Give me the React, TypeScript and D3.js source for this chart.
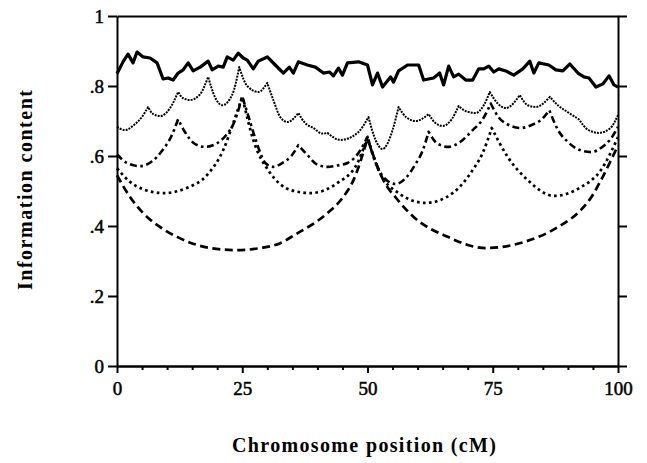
import React, { useEffect, useRef } from "react";
import * as d3 from "d3";

// x positions (cM) and information content values
const solidPts = [
  [0, 0.835], [1.2, 0.869], [2.2, 0.891], [3.2, 0.866], [4, 0.897], [5.2, 0.883], [6.6, 0.88],
  [8, 0.866], [9.2, 0.82], [10.2, 0.823], [11.2, 0.817], [12.2, 0.837], [13.2, 0.846], [14.2, 0.866],
  [15.2, 0.843], [16.6, 0.854], [18.2, 0.871], [19, 0.846], [20.2, 0.857], [21.2, 0.854], [22, 0.883],
  [23.2, 0.874], [24.2, 0.894], [25.2, 0.88], [26, 0.874], [27.2, 0.849], [28.2, 0.871], [30, 0.883],
  [31.6, 0.86], [33.2, 0.837], [34.4, 0.854], [35.2, 0.837], [36.2, 0.869], [38, 0.86], [39.6, 0.854],
  [41.2, 0.837], [42.4, 0.84], [43.2, 0.829], [44.2, 0.851], [45, 0.831], [46, 0.866], [48.2, 0.869],
  [50, 0.86], [51, 0.803], [52, 0.837], [53, 0.797], [54.6, 0.826], [55.2, 0.811], [56.2, 0.843],
  [58, 0.86], [60.2, 0.86], [61.2, 0.817], [63.2, 0.823], [64.4, 0.837], [65.2, 0.803], [66.2, 0.857],
  [67.2, 0.826], [68.2, 0.834], [69.6, 0.817], [71, 0.817], [72.2, 0.849], [73.2, 0.849], [74.2, 0.857],
  [75.2, 0.84], [76.2, 0.849], [77.6, 0.843], [79.2, 0.831], [81, 0.849], [82.4, 0.871], [83.2, 0.837],
  [84.2, 0.866], [86.2, 0.86], [87.6, 0.846], [89, 0.843], [90.4, 0.863], [92, 0.837], [93.2, 0.826],
  [94.2, 0.823], [95.6, 0.797], [97, 0.806], [98.2, 0.829], [99.2, 0.803], [100, 0.797],
];

const finePts = [
  [0, 0.683], [1.6, 0.674], [3.5, 0.69], [5, 0.712], [6.2, 0.74], [7.2, 0.72], [8.6, 0.714],
  [10.5, 0.735], [12.2, 0.783], [13.2, 0.765], [14.6, 0.76], [16.5, 0.775], [18.2, 0.826],
  [19.5, 0.77], [21, 0.745], [23, 0.775], [24.4, 0.854], [26, 0.8], [28.2, 0.783], [30, 0.809],
  [31.2, 0.76], [32.6, 0.711], [34, 0.697], [36.2, 0.723], [37.5, 0.695], [39.2, 0.68], [41, 0.664],
  [42, 0.666], [44.6, 0.646], [48, 0.666], [50.2, 0.711], [51.6, 0.646], [53, 0.62], [55, 0.674],
  [56.2, 0.74], [57.8, 0.71], [59.6, 0.7], [62.2, 0.72], [63.5, 0.695], [65, 0.686], [66.8, 0.705],
  [68.2, 0.743], [69.8, 0.727], [71.6, 0.723], [73.2, 0.745], [74.4, 0.783], [76, 0.75], [77.6, 0.737],
  [80.4, 0.774], [82, 0.745], [83.6, 0.74], [86.4, 0.769], [88, 0.745], [90, 0.725], [92.2, 0.705],
  [94, 0.675], [96.2, 0.666], [98.5, 0.68], [100, 0.717],
];
const fineKnots = [6.2, 12.2, 18.2, 24.4, 30, 36.2, 42, 50.2, 56.2, 62.2, 68.2, 74.4, 80.4, 86.4, 92.2];

const dashDotPts = [
  [0, 0.605], [2, 0.58], [4.6, 0.571], [7, 0.585], [9, 0.615], [10.8, 0.655], [12.2, 0.705],
  [13.5, 0.67], [15.5, 0.635], [17.6, 0.626], [19.8, 0.635], [21.8, 0.66], [23.5, 0.7], [25, 0.77],
  [26.2, 0.715], [27.6, 0.65], [28.6, 0.609], [29.6, 0.58], [31.2, 0.569], [33, 0.58], [34.8, 0.6],
  [36.2, 0.631], [38, 0.603], [40, 0.575], [42, 0.569], [44, 0.573], [46, 0.58], [48.6, 0.617],
  [50, 0.655], [51.5, 0.585], [53.5, 0.535], [55.6, 0.52], [57.5, 0.535], [59.5, 0.575], [61, 0.615],
  [62.2, 0.669], [64, 0.635], [66.2, 0.626], [68.5, 0.64], [71, 0.674], [73, 0.705], [74.6, 0.75],
  [76.2, 0.71], [78, 0.69], [80.6, 0.68], [83, 0.69], [84.8, 0.705], [86.3, 0.731], [88, 0.675],
  [90, 0.64], [92.2, 0.618], [94.6, 0.611], [96.8, 0.625], [98.5, 0.648], [100, 0.683],
];
const dashDotKnots = [12.2, 25, 36.2, 50, 62.2, 74.6, 86.3];

const dotPts = [
  [0, 0.565], [2.6, 0.526], [5.2, 0.505], [9.2, 0.494], [14, 0.509], [18, 0.546], [21.2, 0.617],
  [23.2, 0.694], [25, 0.77], [27.2, 0.646], [30.6, 0.551], [34.6, 0.503], [38.6, 0.494], [44, 0.523],
  [48, 0.58], [50, 0.655], [52.2, 0.56], [56.2, 0.494], [61.6, 0.466], [67, 0.494], [71, 0.56],
  [73, 0.609], [74.8, 0.68], [78, 0.597], [82, 0.531], [87.2, 0.486], [92.6, 0.511], [96.6, 0.56],
  [100, 0.654],
];
const dotKnots = [25, 50, 74.8];

const dashPts = [
  [0, 0.545], [2.5, 0.485], [5.2, 0.437], [8.5, 0.398], [12, 0.369], [18.6, 0.337], [24, 0.331],
  [28.6, 0.337], [32.6, 0.351], [35.4, 0.374], [42, 0.437], [45, 0.48], [47.2, 0.531], [50, 0.65],
  [53.2, 0.53], [56, 0.475], [59.2, 0.426], [66, 0.369], [73.6, 0.337], [81.2, 0.354], [88, 0.397],
  [92.6, 0.446], [94.8, 0.485], [96.6, 0.531], [100, 0.63],
];
const dashKnots = [50];

const xTicks = [0, 25, 50, 75, 100];
const xMinorTicks = [5, 10, 15, 20, 30, 35, 40, 45, 55, 60, 65, 70, 80, 85, 90, 95];
const yTicks = [0, 0.2, 0.4, 0.6, 0.8, 1];
const yTickLabels = ["0", ".2", ".4", ".6", ".8", "1"];

const serif = "'Liberation Serif', 'DejaVu Serif', serif";

// join curve segments so the dips are smooth but the marker positions stay sharp cusps
const cuspPath = (pts, knots, line) => {
  const segs = [];
  let cur = [pts[0]];
  for (let i = 1; i < pts.length; i++) {
    cur.push(pts[i]);
    if (knots.includes(pts[i][0])) {
      segs.push(cur);
      cur = [pts[i]];
    }
  }
  if (cur.length > 1) segs.push(cur);
  return segs.map((s, i) => (i === 0 ? line(s) : line(s).replace(/^M/, "L"))).join("");
};

const App = () => {
  const svgRef = useRef(null);

  useEffect(() => {
    const svg = d3.select(svgRef.current);
    svg.selectAll("*").remove();

    const x = d3.scaleLinear().domain([0, 100]).range([117, 618]);
    const y = d3.scaleLinear().domain([0, 1]).range([366, 16]);

    const styleAxis = (g) => {
      g.selectAll("path, line").attr("stroke", "#000").attr("stroke-width", 2);
      g.selectAll("text")
        .attr("font-family", serif)
        .attr("font-size", 19)
        .attr("fill", "#000")
        .attr("stroke", "#000")
        .attr("stroke-width", 0.5);
    };

    svg
      .append("g")
      .attr("transform", "translate(117,0)")
      .call(
        d3.axisLeft(y).tickValues(yTicks).tickSize(9).tickSizeOuter(0).tickPadding(4)
          .tickFormat((d, i) => yTickLabels[i])
      )
      .call(styleAxis);

    svg
      .append("g")
      .attr("transform", "translate(618,0)")
      .call(d3.axisRight(y).tickValues(yTicks).tickSize(9).tickSizeOuter(0).tickFormat(""))
      .call(styleAxis);

    svg
      .append("g")
      .attr("transform", "translate(0,16)")
      .call(d3.axisTop(x).tickValues([]).tickSizeOuter(0))
      .call(styleAxis);

    svg
      .append("g")
      .attr("transform", "translate(0,366)")
      .call(d3.axisBottom(x).tickValues(xMinorTicks).tickSize(4).tickSizeOuter(0).tickFormat(""))
      .call(styleAxis);

    svg
      .append("g")
      .attr("transform", "translate(0,366)")
      .call(d3.axisBottom(x).tickValues(xTicks).tickSize(7).tickSizeOuter(0).tickPadding(9))
      .call(styleAxis);

    const smooth = d3.line().x((d) => x(d[0])).y((d) => y(d[1])).curve(d3.curveMonotoneX);
    const straight = d3.line().x((d) => x(d[0])).y((d) => y(d[1]));

    const series = [
      { d: cuspPath(dashPts, dashKnots, smooth), w: 2.7, dash: "8 4.5" },
      { d: cuspPath(dotPts, dotKnots, smooth), w: 2.7, dash: "2.7 3.3" },
      { d: cuspPath(dashDotPts, dashDotKnots, smooth), w: 2.6, dash: "7 3.5 2.6 3.5" },
      { d: cuspPath(finePts, fineKnots, smooth), w: 2, dash: "2 1.1" },
      { d: straight(solidPts), w: 3.2, dash: null },
    ];

    svg
      .append("g")
      .selectAll("path")
      .data(series)
      .join("path")
      .attr("d", (s) => s.d)
      .attr("fill", "none")
      .attr("stroke", "#000")
      .attr("stroke-width", (s) => s.w)
      .attr("stroke-linejoin", "round")
      .attr("stroke-dasharray", (s) => s.dash);

    svg
      .append("text")
      .attr("x", 364)
      .attr("y", 452)
      .attr("text-anchor", "middle")
      .attr("font-family", serif)
      .attr("font-weight", "bold")
      .attr("font-size", 20)
      .attr("textLength", 264)
      .attr("lengthAdjust", "spacing")
      .text("Chromosome position (cM)");

    svg
      .append("text")
      .attr("transform", "translate(32,190) rotate(-90)")
      .attr("text-anchor", "middle")
      .attr("font-family", serif)
      .attr("font-weight", "bold")
      .attr("font-size", 20)
      .attr("textLength", 200)
      .attr("lengthAdjust", "spacing")
      .text("Information content");
  }, []);

  return (
    <svg
      ref={svgRef}
      width={647}
      height={463}
      style={{ position: "absolute", left: 0, top: 0, background: "#fff" }}
    />
  );
};

export default App;
